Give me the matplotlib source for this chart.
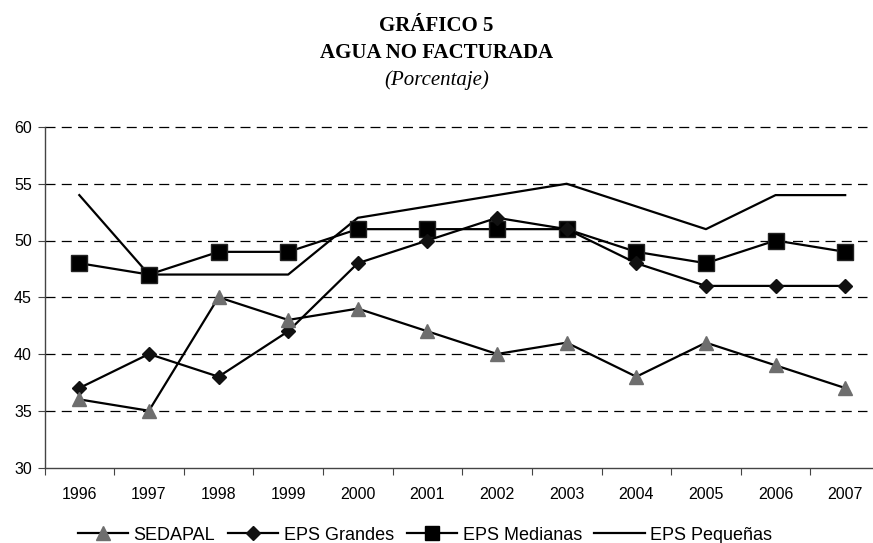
import matplotlib.pyplot as plt
from matplotlib.lines import Line2D

years = ['1996', '1997', '1998', '1999', '2000', '2001', '2002', '2003',
         '2004', '2005', '2006', '2007']
sedapal = [36, 35, 45, 43, 44, 42, 40, 41, 38, 41, 39, 37]
eps_grandes = [37, 40, 38, 42, 48, 50, 52, 51, 48, 46, 46, 46]
eps_medianas = [48, 47, 49, 49, 51, 51, 51, 51, 49, 48, 50, 49]
eps_pequenas = [54, 47, 47, 47, 52, 53, 54, 55, 53, 51, 54, 54]

W, H = 873, 543
fig = plt.figure(figsize=(W / 100, H / 100), dpi=100)

# plot area in pixels (right side runs a bit past the picture, as in the source)
left, right, top, bottom = 44.5, 880, 127, 467.5
ax = fig.add_axes([left / W, 1 - bottom / H, (right - left) / W, (bottom - top) / H])

x = list(range(len(years)))
ax.plot(x, eps_pequenas, color='black', lw=1.6, label='EPS Pequeñas', zorder=3)
ax.plot(x, eps_medianas, color='black', lw=1.6, marker='s', ms=11.5,
        mfc='black', mec='#222222', label='EPS Medianas', zorder=4)
ax.plot(x, eps_grandes, color='black', lw=1.6, marker='D', ms=7.5,
        mfc='#111111', mec='#111111', label='EPS Grandes', zorder=5)
ax.plot(x, sedapal, color='black', lw=1.6, marker='^', ms=10.5,
        mfc='#6e6e6e', mec='#6e6e6e', label='SEDAPAL', zorder=6)

ax.set_xlim(-0.5, len(years) - 0.5)
ax.set_ylim(30, 60)
ax.set_yticks(range(30, 61, 5))
# dashed gridlines stop a little before the picture's right edge
step = (right - left) / len(years)
grid_end = (867 - left) / step - 0.5
ax.hlines(range(35, 61, 5), -0.5, grid_end, color='black', lw=0.9,
          linestyles=[(0, (8, 5))], zorder=1, clip_on=False)

# category ticks between years, labels centred on years
ax.set_xticks([i - 0.5 for i in range(len(years) + 1)])
ax.set_xticklabels([])
ax.set_xticks(x, minor=True)
ax.set_xticklabels(years, minor=True)
ax.tick_params(axis='x', which='major', direction='out', length=5, color='#444444')
ax.tick_params(axis='x', which='minor', length=0, pad=14, labelsize=11.5)
ax.tick_params(axis='y', direction='out', length=5, color='#444444', labelsize=11.5, pad=4)

for s in ['top', 'right']:
    ax.spines[s].set_visible(False)
for s in ['left', 'bottom']:
    ax.spines[s].set_color('#444444')
    ax.spines[s].set_linewidth(1.0)

for lab in ax.get_xticklabels(minor=True) + ax.get_yticklabels():
    lab.set_fontfamily('Liberation Sans')

fig.text(0.5, 1 - 26 / H, 'GRÁFICO 5', ha='center', va='center',
         family='Liberation Serif', weight='bold', fontsize=15)
fig.text(0.5, 1 - 53 / H, 'AGUA NO FACTURADA', ha='center', va='center',
         family='Liberation Serif', weight='bold', fontsize=15)
fig.text(0.5, 1 - 80 / H, '(Porcentaje)', ha='center', va='center',
         family='Liberation Serif', style='italic', fontsize=15)

handles = [
    Line2D([], [], color='black', lw=1.6, marker='^', ms=10, mfc='#6e6e6e', mec='#6e6e6e'),
    Line2D([], [], color='black', lw=1.6, marker='D', ms=7, mfc='#111111', mec='#111111'),
    Line2D([], [], color='black', lw=1.6, marker='s', ms=10, mfc='black'),
    Line2D([], [], color='black', lw=1.6),
]
labels = ['SEDAPAL', 'EPS Grandes', 'EPS Medianas', 'EPS Pequeñas']
fig.legend(handles, labels, loc='center', bbox_to_anchor=(425 / W, 1 - 535 / H),
           ncol=4, frameon=False, handlelength=2.8, handletextpad=0.3,
           columnspacing=0.7, borderpad=0, prop={'family': 'Liberation Sans', 'size': 13})

fig.savefig('out.png', dpi=100)
